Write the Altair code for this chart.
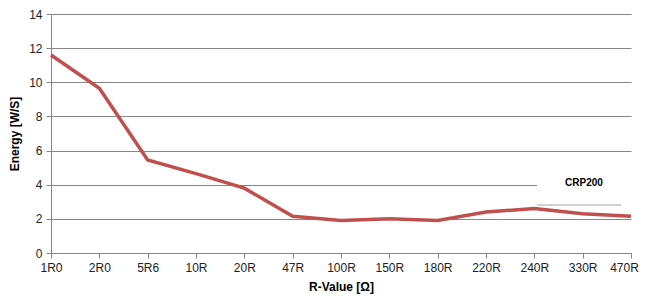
import altair as alt
import pandas as pd

categories = ["1R0", "2R0", "5R6", "10R", "20R", "47R", "100R", "150R", "180R", "220R", "240R", "330R", "470R"]
energy = [11.6, 9.65, 5.45, 4.65, 3.8, 2.15, 1.9, 2.0, 1.9, 2.4, 2.6, 2.3, 2.15]
series_name = "CRP200"

df = pd.DataFrame({"R": categories, "E": energy})

font = "Liberation Sans"

line = alt.Chart(df).mark_line(color="#C0504D", strokeWidth=3.5).encode(
    x=alt.X("R:N", sort=categories, scale=alt.Scale(type="point", padding=0),
            axis=alt.Axis(title="R-Value [Ω]", labelAngle=0, grid=False,
                          domainColor="#868686", tickColor="#868686", tickSize=5,
                          labelPadding=4, titlePadding=8,
                          labelOffset=alt.expr("datum.label == '470R' ? -7 : 0"))),
    y=alt.Y("E:Q", scale=alt.Scale(domain=[0, 14], nice=False),
            axis=alt.Axis(title="Energy [W/S]", values=list(range(0, 15, 2)),
                          grid=True, gridColor="#868686", domainColor="#868686",
                          tickColor="#868686", tickSize=5, labelPadding=4, titlePadding=7)),
)

mask = alt.Chart(df).mark_rect(color="white").encode(
    x=alt.value(486), x2=alt.value(582), y=alt.value(163), y2=alt.value(175)
)
underline = alt.Chart(df).mark_rule(color="#d0d0d0", strokeWidth=1).encode(
    x=alt.value(486), x2=alt.value(570), y=alt.value(191)
)
label = alt.Chart(pd.DataFrame({"t": [series_name]})).mark_text(
    font=font, fontSize=10, fontWeight="bold", color="black"
).encode(text="t:N", x=alt.value(533), y=alt.value(169))

chart = alt.layer(line, mask, underline, label).properties(
    width=580, height=239,
    autosize=alt.AutoSizeParams(type="none"),
    padding={"left": 43, "top": 6, "right": 8, "bottom": 42},
).configure_view(stroke=None).configure_axis(
    labelFont=font, titleFont=font, labelFontSize=12, titleFontSize=12,
    labelColor="#222222", titleColor="#000000", titleFontWeight="bold"
)

chart.save("out.html", embed_options={"renderer": "svg", "actions": False})
